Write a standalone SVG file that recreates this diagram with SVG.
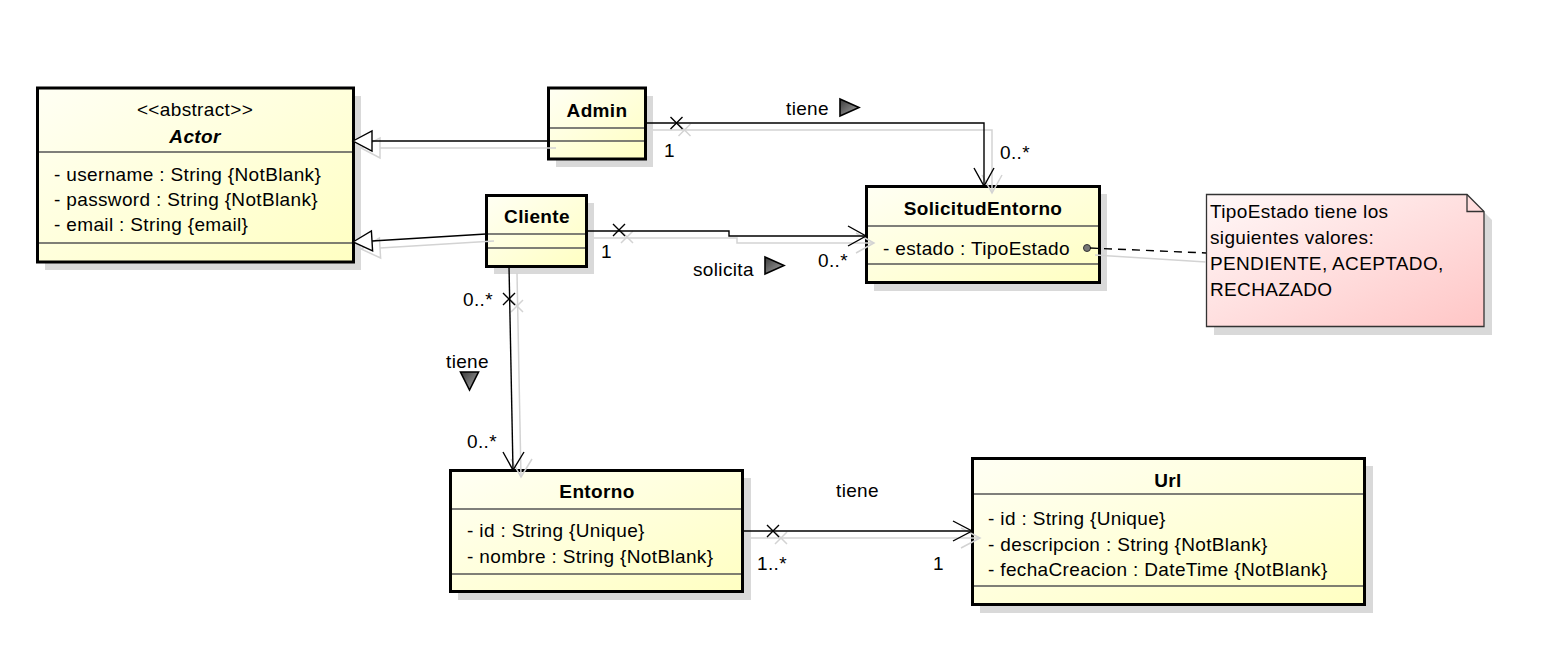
<svg xmlns="http://www.w3.org/2000/svg" width="1541" height="660" viewBox="0 0 1541 660">
<defs>
<linearGradient id="gBox" x1="0" y1="0" x2="1" y2="1">
<stop offset="0" stop-color="#fffff4"/>
<stop offset="1" stop-color="#ffffc2"/>
</linearGradient>
<linearGradient id="gNote" x1="0" y1="0" x2="1" y2="1">
<stop offset="0" stop-color="#fff8f8"/>
<stop offset="1" stop-color="#ffc6c6"/>
</linearGradient>
<linearGradient id="gTri" x1="0" y1="0" x2="1" y2="1">
<stop offset="0" stop-color="#3a3a3a"/>
<stop offset="1" stop-color="#aaaaaa"/>
</linearGradient>
<style>
.sh{fill:#d9d9d9;stroke:none}
.box{fill:url(#gBox);stroke:#000;stroke-width:3}
.sep{stroke:#555;stroke-width:1.5}
text{font-family:"Liberation Sans",Arial,sans-serif;font-size:19px;letter-spacing:0.35px;fill:#000}
.t{font-weight:bold;text-anchor:middle}
.c{text-anchor:middle}
.ln{fill:none;stroke:#000;stroke-width:1.4}
.lsh{fill:none;stroke:#d3d3d3;stroke-width:1.5}
.dir{fill:url(#gTri);stroke:#000;stroke-width:1.6;stroke-linejoin:miter}
</style>
</defs>
<rect width="1541" height="660" fill="#fff"/>

<g id="Actor">
<rect class="sh" x="45" y="96" width="316" height="174"/>
<rect class="box" x="37.5" y="88" width="316" height="174"/>
<line class="sep" x1="39" y1="152" x2="352" y2="152"/>
<line class="sep" x1="39" y1="243" x2="352" y2="243"/>
<text class="c" x="195" y="116">&lt;&lt;abstract&gt;&gt;</text>
<text class="t" x="195" y="143" font-style="italic">Actor</text>
<text x="54" y="181">- username : String {NotBlank}</text>
<text x="54" y="206">- password : String {NotBlank}</text>
<text x="54" y="231">- email : String {email}</text>
</g>

<g id="Admin">
<rect class="sh" x="556" y="96" width="97" height="71"/>
<rect class="box" x="548.5" y="88" width="97" height="71"/>
<line class="sep" x1="550" y1="128" x2="644" y2="128"/>
<line class="sep" x1="550" y1="141" x2="644" y2="141"/>
<text class="t" x="597" y="117">Admin</text>
</g>

<g id="Cliente">
<rect class="sh" x="494" y="203" width="100" height="71"/>
<rect class="box" x="486.5" y="195.5" width="100" height="71"/>
<line class="sep" x1="488" y1="234" x2="585" y2="234"/>
<line class="sep" x1="488" y1="248" x2="585" y2="248"/>
<text class="t" x="537" y="223">Cliente</text>
</g>

<g id="SolicitudEntorno">
<rect class="sh" x="874" y="194" width="233" height="97"/>
<rect class="box" x="866.5" y="186.5" width="233" height="96"/>
<line class="sep" x1="868" y1="226" x2="1098" y2="226"/>
<line class="sep" x1="868" y1="264" x2="1098" y2="264"/>
<text class="t" x="983" y="215">SolicitudEntorno</text>
<text x="883" y="255">- estado : TipoEstado</text>
<circle cx="1087" cy="248" r="3.5" fill="#777" stroke="#333" stroke-width="1"/>
</g>

<g id="Nota">
<path class="sh" d="M1214,203 H1475 L1492,220 V335 H1214 Z"/>
<path d="M1206.5,194.5 H1467 L1484,211.5 V326.5 H1206.5 Z" fill="url(#gNote)" stroke="#333" stroke-width="1.3"/>
<path d="M1467,194.5 V211.5 H1484" fill="none" stroke="#333" stroke-width="1.3"/>
<text x="1210" y="218">TipoEstado tiene los</text>
<text x="1210" y="244">siguientes valores:</text>
<text x="1210" y="270">PENDIENTE, ACEPTADO,</text>
<text x="1210" y="296">RECHAZADO</text>
</g>

<g id="Entorno">
<rect class="sh" x="458" y="478" width="293" height="122"/>
<rect class="box" x="450.5" y="470.5" width="292" height="121"/>
<line class="sep" x1="452" y1="509" x2="741" y2="509"/>
<line class="sep" x1="452" y1="574" x2="741" y2="574"/>
<text class="t" x="597" y="498">Entorno</text>
<text x="467" y="537">- id : String {Unique}</text>
<text x="467" y="563">- nombre : String {NotBlank}</text>
</g>

<g id="Url">
<rect class="sh" x="980" y="466" width="393" height="147"/>
<rect class="box" x="972.5" y="458.5" width="392" height="146"/>
<line class="sep" x1="974" y1="494" x2="1363" y2="494"/>
<line class="sep" x1="974" y1="586" x2="1363" y2="586"/>
<text class="t" x="1168" y="487">Url</text>
<text x="988" y="525">- id : String {Unique}</text>
<text x="988" y="551">- descripcion : String {NotBlank}</text>
<text x="988" y="576">- fechaCreacion : DateTime {NotBlank}</text>
</g>

<g id="connectors">
<g id="connector-shadows" class="lsh" transform="translate(8,7)">
<path d="M372,141 H548"/>
<path d="M353,141 L372,131 L372,151 Z"/>
<path d="M486,234 L372,241"/>
<path d="M353,242 L371.4,231 L372.6,251 Z"/>
<path d="M645,123 H984 V186"/>
<path d="M974,168 L984,186 L994,168"/>
<path d="M670.5,117 L682.5,129 M682.5,117 L670.5,129"/>
<path d="M586,231 H729 V236 H866"/>
<path d="M848,226 L866,236 L848,246"/>
<path d="M613,224 L625,236 M625,224 L613,236"/>
<path d="M509,266 L513,470"/>
<path d="M503,452 L513,470 L524,452"/>
<path d="M503,293 L515,305 M515,293 L503,305"/>
<path d="M743,531 H972"/>
<path d="M953,521 L972,531 L953,541"/>
<path d="M767,525 L779,537 M779,525 L767,537"/>
</g>
<path d="M1095,255 L1206,262" class="lsh"/>

<g id="gen-admin-actor">
<path class="ln" d="M372,141 H548"/>
<path d="M353,141 L372,131 L372,151 Z" fill="#fff" stroke="#000" stroke-width="1.4"/>
</g>
<g id="gen-cliente-actor">
<path class="ln" d="M486,234 L372,241"/>
<path d="M353,242 L371.4,231 L372.6,251 Z" fill="#fff" stroke="#000" stroke-width="1.4"/>
</g>
<g id="assoc-admin-solicitud">
<path class="ln" d="M645,123 H984 V186"/>
<path class="ln" d="M974,168 L984,186 L994,168"/>
<path class="ln" d="M670.5,117 L682.5,129 M682.5,117 L670.5,129"/>
<text x="786" y="115">tiene</text>
<path class="dir" d="M840,99 L859,107.5 L840,116 Z"/>
<text x="664" y="157">1</text>
<text x="1000" y="159">0..*</text>
</g>
<g id="assoc-cliente-solicitud">
<path class="ln" d="M586,231 H729 V236 H866"/>
<path class="ln" d="M848,226 L866,236 L848,246"/>
<path class="ln" d="M613,224 L625,236 M625,224 L613,236"/>
<text x="601" y="258">1</text>
<text x="818" y="267">0..*</text>
<text x="693" y="276">solicita</text>
<path class="dir" d="M765,257 L784,265.5 L765,274 Z"/>
</g>
<g id="assoc-cliente-entorno">
<path class="ln" d="M509,266 L513,470"/>
<path class="ln" d="M503,452 L513,470 L524,452"/>
<path class="ln" d="M503,293 L515,305 M515,293 L503,305"/>
<text x="463" y="306">0..*</text>
<text x="446" y="368">tiene</text>
<path class="dir" d="M460.5,372 L478.5,372 L469.5,390 Z"/>
<text x="467" y="448">0..*</text>
</g>
<g id="assoc-entorno-url">
<path class="ln" d="M743,531 H972"/>
<path class="ln" d="M953,521 L972,531 L953,541"/>
<path class="ln" d="M767,525 L779,537 M779,525 L767,537"/>
<text x="836" y="497">tiene</text>
<text x="757" y="570">1..*</text>
<text x="933" y="570">1</text>
</g>
<g id="note-link">
<path d="M1090,248 L1206,253" fill="none" stroke="#000" stroke-width="1.4" stroke-dasharray="8,6"/>
</g>
</g>
</svg>
